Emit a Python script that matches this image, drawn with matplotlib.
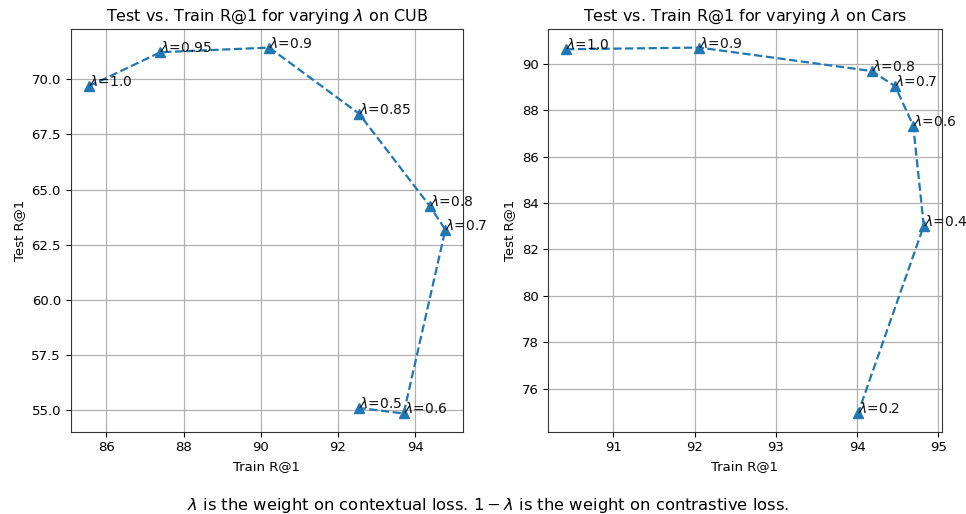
import matplotlib
matplotlib.use("Agg")
import matplotlib.pyplot as plt

# Train / test recall@1 for each lambda setting
cub_lambdas = ["1.0", "0.95", "0.9", "0.85", "0.8", "0.7", "0.6", "0.5"]
cub_train = [85.54, 87.40, 90.22, 92.54, 94.37, 94.78, 93.70, 92.54]
cub_test = [69.68, 71.23, 71.44, 68.45, 64.27, 63.18, 54.85, 55.10]

cars_lambdas = ["1.0", "0.9", "0.8", "0.7", "0.6", "0.4", "0.2"]
cars_train = [90.42, 92.06, 94.18, 94.47, 94.69, 94.82, 94.01]
cars_test = [90.62, 90.69, 89.68, 89.02, 87.33, 83.02, 74.94]

fig = plt.figure(figsize=(9.66, 5.14), dpi=100)
ax1 = fig.add_axes([0.0732, 0.160, 0.4063, 0.783])
ax2 = fig.add_axes([0.5676, 0.160, 0.4072, 0.783])


def draw(ax, train, test, lambdas, name):
    ax.plot(train, test, linestyle="--", marker="^", color="#1f77b4",
            markersize=7.5, linewidth=1.6, zorder=3)
    for x, y, lam in zip(train, test, lambdas):
        ax.text(x, y, r"$\lambda$=" + lam, fontsize=10, color="#111111", zorder=4)
    ax.grid(True, color="#b0b0b0", linewidth=0.9)
    ax.set_axisbelow(True)
    ax.set_title(r"Test vs. Train R@1 for varying $\lambda$ on " + name, fontsize=11.5)
    ax.set_xlabel("Train R@1", fontsize=9.5)
    ax.set_ylabel("Test R@1", fontsize=9.5)
    ax.tick_params(labelsize=9.5)
    for s in ax.spines.values():
        s.set_color("#333333")


draw(ax1, cub_train, cub_test, cub_lambdas, "CUB")
draw(ax2, cars_train, cars_test, cars_lambdas, "Cars")
ax1.set_yticks([55.0, 57.5, 60.0, 62.5, 65.0, 67.5, 70.0])
ax1.set_xticks([86, 88, 90, 92, 94])
ax2.set_xticks([91, 92, 93, 94, 95])

fig.text(0.505, 0.0175, r"$\lambda$ is the weight on contextual loss. $1-\lambda$ is the weight on contrastive loss.",
         ha="center", va="center", fontsize=11.8)

fig.savefig("out.png", dpi=100)
